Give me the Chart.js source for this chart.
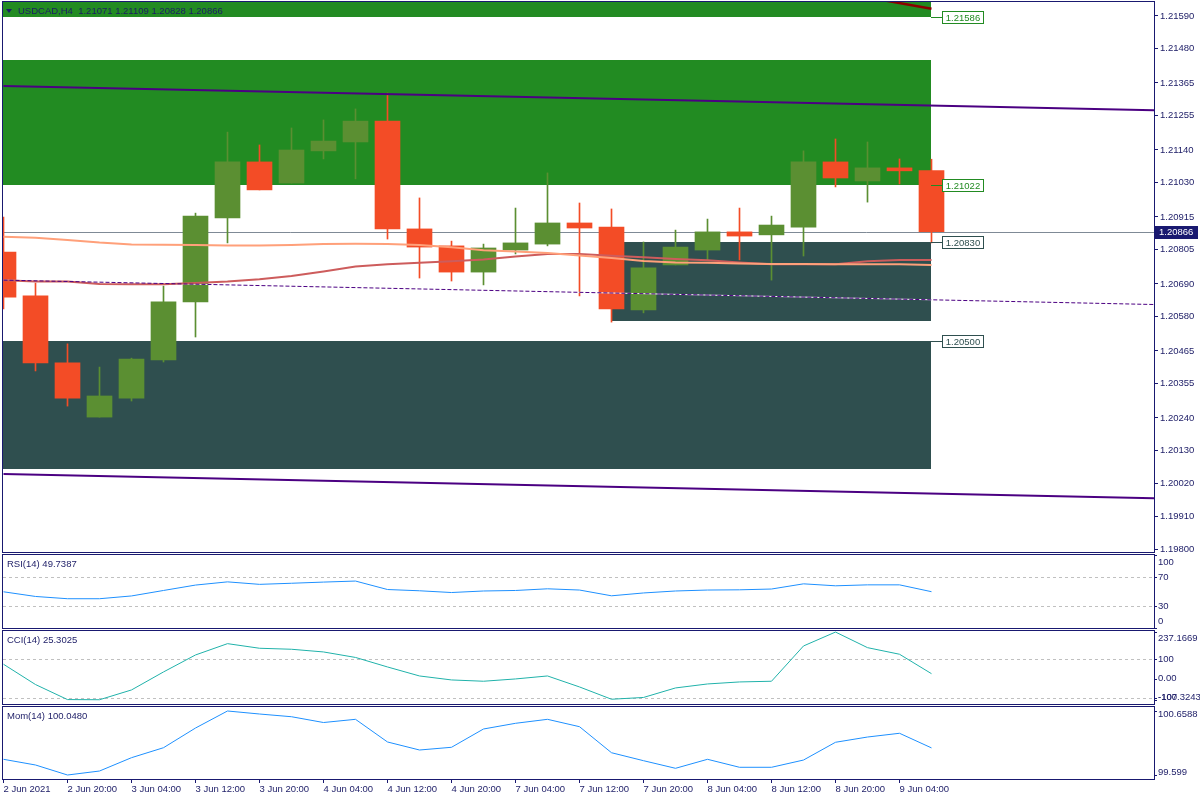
<!DOCTYPE html>
<html>
<head>
<meta charset="utf-8">
<title>USDCAD,H4</title>
<script src="https://cdn.jsdelivr.net/npm/chart.js@4.4.1/dist/chart.umd.min.js"></script>
<style>
  html, body { margin: 0; padding: 0; background: #fff; }
  #wrap { position: relative; width: 1200px; height: 800px; overflow: hidden; background: #fff; }
  #wrap canvas { position: absolute; left: 0; }
</style>
</head>
<body>
<div id="wrap">
  <canvas id="priceChart" width="1200" height="553" style="top:0"></canvas>
  <canvas id="rsiChart" width="1200" height="76" style="top:553px"></canvas>
  <canvas id="cciChart" width="1200" height="76" style="top:629px"></canvas>
  <canvas id="momChart" width="1200" height="95" style="top:705px"></canvas>
</div>
<script>
// USDCAD H4: candles + zones + channel, then RSI / CCI / Momentum windows

const symbol = 'USDCAD';
const period = 'H4';

// bars (x = position in these arrays)
const barTimes = ['2 Jun 12:00', '2 Jun 16:00', '2 Jun 20:00', '3 Jun 00:00', '3 Jun 04:00', '3 Jun 08:00',
  '3 Jun 12:00', '3 Jun 16:00', '3 Jun 20:00', '4 Jun 00:00', '4 Jun 04:00', '4 Jun 08:00',
  '4 Jun 12:00', '4 Jun 16:00', '4 Jun 20:00', '7 Jun 00:00', '7 Jun 04:00', '7 Jun 08:00',
  '7 Jun 12:00', '7 Jun 16:00', '7 Jun 20:00', '8 Jun 00:00', '8 Jun 04:00', '8 Jun 08:00',
  '8 Jun 12:00', '8 Jun 16:00', '8 Jun 20:00', '9 Jun 00:00', '9 Jun 04:00', '9 Jun 08:00'];

const opens = [1.20797, 1.20650, 1.20425, 1.20243, 1.20307, 1.20435, 1.20630, 1.20912, 1.21100, 1.21029,
  1.21137, 1.21167, 1.21237, 1.20875, 1.20818, 1.20730, 1.20804, 1.20824, 1.20895, 1.20881,
  1.20603, 1.20754, 1.20804, 1.20865, 1.20855, 1.20881, 1.21100, 1.21036, 1.21080, 1.21071];
const highs = [1.20915, 1.20693, 1.20489, 1.20411, 1.20441, 1.20683, 1.20928, 1.21200, 1.21157, 1.21214,
  1.21241, 1.21278, 1.21331, 1.20979, 1.20834, 1.20824, 1.20945, 1.21063, 1.20962, 1.20942,
  1.20831, 1.20871, 1.20908, 1.20945, 1.20918, 1.21137, 1.21177, 1.21167, 1.21110, 1.21109];
const lows = [1.20606, 1.20398, 1.20280, 1.20243, 1.20297, 1.20428, 1.20512, 1.20828, 1.21006, 1.21029,
  1.21110, 1.21043, 1.20841, 1.20710, 1.20700, 1.20687, 1.20791, 1.20818, 1.20650, 1.20562,
  1.20593, 1.20754, 1.20771, 1.20771, 1.20703, 1.20784, 1.21016, 1.20965, 1.21026, 1.20828];
const closes = [1.20646, 1.20425, 1.20307, 1.20314, 1.20438, 1.20630, 1.20918, 1.21100, 1.21006, 1.21140,
  1.21170, 1.21237, 1.20875, 1.20814, 1.20730, 1.20811, 1.20828, 1.20895, 1.20878, 1.20606,
  1.20744, 1.20814, 1.20865, 1.20851, 1.20888, 1.21100, 1.21046, 1.21080, 1.21070, 1.20866];

// moving averages
const maSlow = [1.20849, 1.20845, 1.20838, 1.20829, 1.20823, 1.20822, 1.20821, 1.20819, 1.20819, 1.20821,
  1.20824, 1.20825, 1.20824, 1.20821, 1.20813, 1.20803, 1.20799, 1.20794, 1.20786, 1.20777,
  1.20767, 1.20762, 1.20761, 1.20759, 1.20757, 1.20757, 1.20756, 1.20756, 1.20756, 1.20754];
const maFast = [1.20703, 1.20698, 1.20698, 1.20690, 1.20689, 1.20689, 1.20693, 1.20698, 1.20706, 1.20717,
  1.20732, 1.20749, 1.20756, 1.20761, 1.20766, 1.20772, 1.20782, 1.20791, 1.20791, 1.20785,
  1.20780, 1.20774, 1.20770, 1.20762, 1.20756, 1.20756, 1.20756, 1.20766, 1.20771, 1.20771];

// regression channel (two anchor bars)
const channelBars = [0, 36];
const channelUpper = [1.21355, 1.21273];
const channelMid = [1.20703, 1.20621];
const channelLower = [1.20052, 1.19970];

// short dark red line at the top right
const redLineBars = [27.5, 29];
const redLine = [1.21643, 1.21614];

// supply / demand rectangles
const zoneHigh = [1.21700, 1.21442, 1.20830, 1.20500];
const zoneLow = [1.21586, 1.21022, 1.20566, 1.20069];
const zoneFromBar = [-5, -5, 19, -5];
const zoneToBar = [29, 29, 29, 29];
const zoneSide = ['supply', 'supply', 'demand', 'demand'];

// price axis
const priceTicks = [1.21590, 1.21480, 1.21365, 1.21255, 1.21140, 1.21030, 1.20915, 1.20805, 1.20690,
  1.20580, 1.20465, 1.20355, 1.20240, 1.20130, 1.20020, 1.19910, 1.19800];
const PRICE_MIN = 1.19790;
const PRICE_MAX = 1.21637;

// time axis
const timeTickBars = [0, 2, 4, 6, 8, 10, 12, 14, 16, 18, 20, 22, 24, 26, 28];
const timeTickLabels = ['2 Jun 2021', '2 Jun 20:00', '3 Jun 04:00', '3 Jun 12:00', '3 Jun 20:00',
  '4 Jun 04:00', '4 Jun 12:00', '4 Jun 20:00', '7 Jun 04:00', '7 Jun 12:00', '7 Jun 20:00',
  '8 Jun 04:00', '8 Jun 12:00', '8 Jun 20:00', '9 Jun 04:00'];
const X_MIN = -0.015625;
const X_MAX = 35.953125;

// indicators
const rsi = [49.6, 43.2, 40.1, 40.1, 43.9, 51.4, 58.8, 63.2, 59.8, 61.3, 62.9, 64.3, 52.7, 51.0, 48.6,
  50.7, 51.4, 53.7, 52.0, 44.1, 48.0, 50.7, 52.0, 52.3, 53.4, 60.5, 57.8, 59.1, 59.1, 49.7387];
const rsiLevels = [70, 30];
const rsiTicks = [100, 70, 30, 0];
const rsiTickText = ['100', '70', '30', '0'];

const cci = [73.3, -30.0, -106.5, -107.3243, -57.5, 34.1, 120.6, 178.1, 154.7, 149.6, 135.9, 107.9, 59.5,
  13.7, -6.6, -13.2, -1.5, 13.7, -42.2, -104.8, -95.7, -47.3, -27.0, -16.8, -13.2, 166.4, 237.1669,
  157.8, 124.2, 25.3025];
const cciLevels = [100, -100];
const cciTicks = [237.1669, 100, 0, -100, -107.3243];
const cciTickText = ['237.1669', '100', '0.00', '-100', '-107.3243'];

const mom = [99.859, 99.765, 99.599, 99.665, 99.886, 100.051, 100.377, 100.6588, 100.609, 100.564,
  100.468, 100.521, 100.146, 100.013, 100.058, 100.361, 100.455, 100.521, 100.399, 99.968,
  99.836, 99.710, 99.859, 99.727, 99.727, 99.847, 100.141, 100.228, 100.290, 100.048];
const momTicks = [100.6588, 99.599];
const momTickText = ['100.6588', '99.599'];

// styles
const FONT = '"Liberation Sans", Arial, sans-serif';
const FONT_SIZE = 9.5;
const NAVY = '#191970';
const TEXT = '#1c1c66';
const BULL = '#5b8f32';
const BEAR = '#f34c26';
const GREEN_ZONE = '#228b22';
const SLATE_ZONE = '#2f4f4f';
const INDIGO = '#4b0082';
const BID_GREY = '#7f8a96';

Chart.defaults.font.family = FONT;
Chart.defaults.font.size = FONT_SIZE;

function drawFrame(chart) {
  const { ctx, chartArea: a } = chart;
  ctx.save();
  ctx.strokeStyle = NAVY;
  ctx.lineWidth = 1;
  ctx.strokeRect(a.left - 0.5, a.top - 0.5, a.right - a.left + 1, a.bottom - a.top + 1);
  ctx.restore();
}

const last = closes.length - 1;

const pricePanel = {
  id: 'pricePanel',
  beforeDatasetsDraw(chart) {
    const { ctx, chartArea: a, scales: { x, y } } = chart;
    ctx.save();
    ctx.beginPath();
    ctx.rect(a.left, a.top, a.right - a.left, a.bottom - a.top);
    ctx.clip();
    zoneHigh.forEach((hi, k) => {
      const x0 = Math.floor(x.getPixelForValue(zoneFromBar[k]));
      const x1 = Math.floor(x.getPixelForValue(zoneToBar[k]));
      const y0 = Math.round(y.getPixelForValue(hi));
      const y1 = Math.round(y.getPixelForValue(zoneLow[k]));
      ctx.fillStyle = zoneSide[k] === 'supply' ? GREEN_ZONE : SLATE_ZONE;
      ctx.fillRect(x0, y0, x1 - x0, y1 - y0);
    });
    // bid line
    const yb = Math.round(y.getPixelForValue(closes[last])) + 0.5;
    ctx.strokeStyle = BID_GREY;
    ctx.lineWidth = 1;
    ctx.beginPath();
    ctx.moveTo(a.left, yb);
    ctx.lineTo(a.right, yb);
    ctx.stroke();
    ctx.restore();
  },
  afterDraw(chart) {
    const { ctx, chartArea: a, scales: { x, y } } = chart;
    ctx.save();
    ctx.font = FONT_SIZE + 'px ' + FONT;
    ctx.textBaseline = 'middle';
    ctx.lineWidth = 1;

    // zone price labels
    zoneHigh.forEach((hi, k) => {
      const col = zoneSide[k] === 'supply' ? GREEN_ZONE : SLATE_ZONE;
      const p = zoneSide[k] === 'supply' ? zoneLow[k] : hi;
      const yl = Math.round(y.getPixelForValue(p)) + 0.5;
      const xe = Math.floor(x.getPixelForValue(zoneToBar[k]));
      ctx.strokeStyle = col;
      ctx.beginPath();
      ctx.moveTo(xe, yl);
      ctx.lineTo(xe + 11, yl);
      ctx.stroke();
      ctx.fillStyle = '#ffffff';
      ctx.fillRect(xe + 11.5, yl - 6, 41, 12);
      ctx.strokeRect(xe + 11.5, yl - 6, 41, 12);
      ctx.fillStyle = col;
      ctx.textAlign = 'center';
      ctx.fillText(p.toFixed(5), xe + 32, yl + 0.5);
    });

    // last price box on the axis
    const yb = Math.round(y.getPixelForValue(closes[last]));
    ctx.fillStyle = NAVY;
    ctx.fillRect(a.right + 1, yb - 6, 43, 13);
    ctx.fillStyle = '#ffffff';
    ctx.textAlign = 'left';
    ctx.fillText(closes[last].toFixed(5), a.right + 5, yb + 0.5);

    // header
    ctx.fillStyle = TEXT;
    ctx.beginPath();
    ctx.moveTo(6, 9);
    ctx.lineTo(12, 9);
    ctx.lineTo(9, 13);
    ctx.closePath();
    ctx.fill();
    const head = symbol + ',' + period + '  ' + [opens[last], highs[last], lows[last], closes[last]]
      .map(v => v.toFixed(5)).join(' ');
    ctx.fillText(head, 18, 11);
    ctx.restore();
    drawFrame(chart);
  }
};

new Chart(document.getElementById('priceChart'), {
  type: 'bar',
  data: {
    datasets: [
      {
        type: 'line', label: 'channel upper', order: 1,
        data: channelBars.map((b, i) => ({ x: b, y: channelUpper[i] })),
        borderColor: INDIGO, borderWidth: 2, pointRadius: 0, tension: 0, fill: false
      },
      {
        type: 'line', label: 'channel lower', order: 1,
        data: channelBars.map((b, i) => ({ x: b, y: channelLower[i] })),
        borderColor: INDIGO, borderWidth: 2, pointRadius: 0, tension: 0, fill: false
      },
      {
        type: 'line', label: 'channel mid gap', order: 2,
        data: channelBars.map((b, i) => ({ x: b, y: channelMid[i] })),
        borderColor: '#ffffff', borderWidth: 1, pointRadius: 0, tension: 0, fill: false
      },
      {
        type: 'line', label: 'channel mid', order: 1,
        data: channelBars.map((b, i) => ({ x: b, y: channelMid[i] })),
        borderColor: INDIGO, borderWidth: 1, borderDash: [4, 2], pointRadius: 0, tension: 0, fill: false
      },
      {
        type: 'line', label: 'MA slow', order: 1,
        data: maSlow.map((v, i) => ({ x: i, y: v })),
        borderColor: '#ffa07a', borderWidth: 2, pointRadius: 0, tension: 0, fill: false
      },
      {
        type: 'line', label: 'MA fast', order: 1,
        data: maFast.map((v, i) => ({ x: i, y: v })),
        borderColor: '#cd5c5c', borderWidth: 2, pointRadius: 0, tension: 0, fill: false
      },
      {
        type: 'line', label: 'dark red', order: 1,
        data: redLineBars.map((b, i) => ({ x: b, y: redLine[i] })),
        borderColor: '#8b0000', borderWidth: 2.5, pointRadius: 0, tension: 0, fill: false
      },
      {
        type: 'bar', label: 'wicks', order: 11,
        data: lows.map((l, i) => ({ x: i, y: [l, highs[i]] })),
        backgroundColor: closes.map((c, i) => c >= opens[i] ? BULL : BEAR),
        barThickness: 1, grouped: false, borderWidth: 0
      },
      {
        type: 'bar', label: 'bodies', order: 10,
        data: opens.map((o, i) => ({ x: i, y: [o, closes[i]] })),
        backgroundColor: closes.map((c, i) => c >= opens[i] ? BULL : BEAR),
        barThickness: 25, grouped: false, borderWidth: 0, minBarLength: 1
      }
    ]
  },
  options: {
    responsive: false,
    animation: false,
    devicePixelRatio: 1,
    layout: { padding: { left: 3, right: 0, top: 2, bottom: 1 } },
    plugins: { legend: { display: false }, tooltip: { enabled: false } },
    scales: {
      x: { type: 'linear', min: X_MIN, max: X_MAX, offset: false, display: false, grid: { offset: false } },
      y: {
        type: 'linear', position: 'right', min: PRICE_MIN, max: PRICE_MAX, beginAtZero: false,
        afterBuildTicks: s => { s.ticks = priceTicks.map(v => ({ value: v })); },
        afterFit: s => { s.width = 46; s.paddingTop = 0; s.paddingBottom = 0; },
        grid: { drawOnChartArea: false, tickLength: 4, color: NAVY },
        border: { display: false },
        ticks: {
          autoSkip: false, padding: 2, color: TEXT,
          font: { family: FONT, size: FONT_SIZE },
          callback: v => Number(v).toFixed(5)
        }
      }
    }
  },
  plugins: [pricePanel]
});

// indicator windows
function indicatorChart(id, values, color, yMin, yMax, levels, ticks, tickText, title, withTime) {
  const panel = {
    id: 'panel_' + id,
    beforeDatasetsDraw(chart) {
      const { ctx, chartArea: a, scales: { y } } = chart;
      ctx.save();
      ctx.strokeStyle = '#c0c0c0';
      ctx.lineWidth = 1;
      ctx.setLineDash([3, 3]);
      levels.forEach(l => {
        const yy = Math.round(y.getPixelForValue(l)) + 0.5;
        ctx.beginPath();
        ctx.moveTo(a.left, yy);
        ctx.lineTo(a.right, yy);
        ctx.stroke();
      });
      ctx.restore();
    },
    afterDraw(chart) {
      const { ctx, chartArea: a, scales: { y } } = chart;
      ctx.save();
      ctx.font = FONT_SIZE + 'px ' + FONT;
      ctx.textBaseline = 'middle';
      ctx.fillStyle = TEXT;
      ctx.textAlign = 'left';
      ctx.fillText(title, 7, a.top + 9);
      ctx.strokeStyle = NAVY;
      ctx.lineWidth = 1;
      ticks.forEach((t, k) => {
        const yy = y.getPixelForValue(t);
        const ly = Math.min(Math.max(yy, a.top + 7), a.bottom - 6.5);
        ctx.beginPath();
        ctx.moveTo(a.right, Math.round(yy) + 0.5);
        ctx.lineTo(a.right + 3, Math.round(yy) + 0.5);
        ctx.stroke();
        ctx.fillText(tickText[k], a.right + 4, ly);
      });
      ctx.restore();
      drawFrame(chart);
    }
  };

  const xScale = withTime ? {
    type: 'linear', min: X_MIN, max: X_MAX, offset: false, position: 'bottom',
    afterBuildTicks: s => { s.ticks = timeTickBars.map(v => ({ value: v })); },
    afterFit: s => { s.height = 21; s.paddingLeft = 0; s.paddingRight = 0; },
    grid: { drawOnChartArea: false, tickLength: 4, color: NAVY, offset: false },
    border: { display: false },
    ticks: {
      autoSkip: false, maxRotation: 0, minRotation: 0, align: 'start', padding: 1, color: TEXT,
      font: { family: FONT, size: FONT_SIZE },
      callback: (v, i) => timeTickLabels[i]
    }
  } : { type: 'linear', min: X_MIN, max: X_MAX, offset: false, display: false };

  return new Chart(document.getElementById(id), {
    type: 'line',
    data: {
      datasets: [{
        data: values.map((v, i) => ({ x: i, y: v })),
        borderColor: color, borderWidth: 1, pointRadius: 0, tension: 0, fill: false
      }]
    },
    options: {
      responsive: false,
      animation: false,
      devicePixelRatio: 1,
      layout: { padding: { left: 3, right: 46, top: 2, bottom: withTime ? 0 : 1 } },
      plugins: { legend: { display: false }, tooltip: { enabled: false } },
      scales: {
        x: xScale,
        y: { type: 'linear', min: yMin, max: yMax, display: false }
      }
    },
    plugins: [panel]
  });
}

indicatorChart('rsiChart', rsi, '#1e90ff', 0, 100, rsiLevels, rsiTicks, rsiTickText,
  'RSI(14) ' + rsi[last].toFixed(4), false);
indicatorChart('cciChart', cci, '#20b2aa', -129, 242.5, cciLevels, cciTicks, cciTickText,
  'CCI(14) ' + cci[last].toFixed(4), false);
indicatorChart('momChart', mom, '#1e90ff', 99.533, 100.725, [], momTicks, momTickText,
  'Mom(14) ' + mom[last].toFixed(4), true);
</script>
</body>
</html>
